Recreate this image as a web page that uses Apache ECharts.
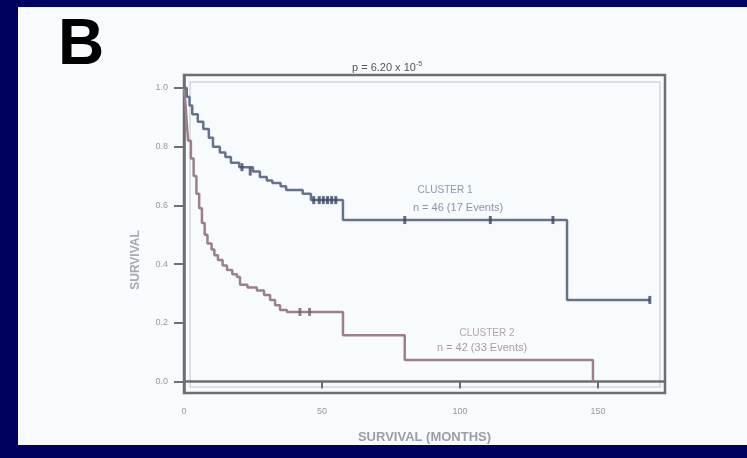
<!DOCTYPE html>
<html>
<head>
<meta charset="utf-8">
<script src="https://cdn.jsdelivr.net/npm/echarts@6/dist/echarts.min.js"></script>
<style>html,body{margin:0;padding:0;background:#00005e;}#c{width:747px;height:458px;}</style>
</head>
<body>
<div id="c"></div>
<script>
// Cluster 1 (upper, blue) Kaplan-Meier steps: months, survival
const blueTimes = [0, 1, 2, 3, 5, 7, 9, 10.5, 13, 15, 17, 20, 25, 27.5, 30, 32, 35, 37, 43, 46, 57.6, 138.8, 168.8];
const blueSurv  = [1.0, 0.97, 0.94, 0.91, 0.885, 0.86, 0.83, 0.80, 0.78, 0.765, 0.745, 0.73, 0.715, 0.697, 0.685, 0.676, 0.665, 0.652, 0.64, 0.618, 0.55, 0.278, 0.278];
const blueCensorT = [21, 24, 47, 49, 50.5, 52, 53.5, 55, 80, 111, 133.7, 168.8];
const blueCensorS = [0.73, 0.715, 0.618, 0.618, 0.618, 0.618, 0.618, 0.618, 0.55, 0.55, 0.55, 0.278];
// Cluster 2 (lower, red)
const redTimes = [0, 0.5, 1, 1.5, 2.5, 3.5, 4.5, 5.5, 6.5, 7.5, 8.5, 10, 11, 12.3, 14, 15.6, 17.5, 19.2, 20.3, 23, 26.4, 29, 31.2, 33, 34.8, 37.3, 57.6, 80, 148.2];
const redSurv  = [1.0, 0.95, 0.88, 0.82, 0.76, 0.70, 0.64, 0.59, 0.54, 0.50, 0.47, 0.45, 0.43, 0.414, 0.395, 0.38, 0.365, 0.356, 0.33, 0.32, 0.31, 0.295, 0.278, 0.26, 0.244, 0.237, 0.158, 0.073, 0.0];
const redCensorT = [42, 45.5];
const redCensorS = [0.237, 0.237];
// Axis ticks
const yTicks = [0, 0.2, 0.4, 0.6, 0.8, 1.0];
const xTicks = [0, 50, 100, 150];
const titleText = 'p = 6.20 x 10';
const titleSup = '-5';
const blueLabel = ['CLUSTER 1', 'n = 46 (17 Events)'];
const redLabel = ['CLUSTER 2', 'n = 42 (33 Events)'];

const zip = (a, b) => a.map((v, i) => [v, b[i]]);

const chart = echarts.init(document.getElementById('c'), null, {renderer: 'canvas'});
const axisCol = '#6b6f72';
chart.setOption({
  backgroundColor: '#00005e',
  animation: false,
  graphic: [
    {type: 'rect', z: -10, shape: {x: 18, y: 7, width: 729, height: 438}, style: {fill: '#f8fbfe'}},
    {type: 'text', left: 58, top: 14, style: {text: 'B', font: 'bold 64px "Liberation Sans", Arial, sans-serif', fill: '#000'}},
    {type: 'text', left: 352, top: 61, style: {rich: {a: {fontSize: 11, fontFamily: 'Liberation Sans', fill: '#555'}, s: {fontSize: 7, fontFamily: 'Liberation Sans', fill: '#555', verticalAlign: 'top', padding: [0,0,6,0]}}, text: '{a|' + titleText + '}{s|' + titleSup + '}'}},
    {type: 'text', x: 445, y: 190, style: {text: blueLabel[0], font: '10px "Liberation Sans"', fill: '#9298aa', align: 'center', verticalAlign: 'middle'}},
    {type: 'text', x: 458, y: 208, style: {text: blueLabel[1], font: '11px "Liberation Sans"', fill: '#8a92a8', align: 'center', verticalAlign: 'middle'}},
    {type: 'text', x: 487, y: 333, style: {text: redLabel[0], font: '10px "Liberation Sans"', fill: '#b5a3aa', align: 'center', verticalAlign: 'middle'}},
    {type: 'text', x: 482, y: 348, style: {text: redLabel[1], font: '11px "Liberation Sans"', fill: '#ae98a2', align: 'center', verticalAlign: 'middle'}},
    {type: 'text', x: 136, y: 260, rotation: Math.PI / 2, style: {text: 'SURVIVAL', font: 'bold 12px "Liberation Sans"', fill: '#a6aab0', align: 'center', verticalAlign: 'middle'}}
  ],
  grid: [
    {left: 184, right: 82, top: 75, bottom: 65, show: true, borderColor: axisCol, borderWidth: 2.5, backgroundColor: 'transparent'},
    {left: 190, right: 87, top: 82, bottom: 71, show: true, borderColor: '#d2d6da', borderWidth: 1.5, backgroundColor: 'transparent'}
  ],
  xAxis: [
    {type: 'value', gridIndex: 0, min: 0, max: 174.3, interval: 50,
     axisLine: {show: true, lineStyle: {color: axisCol, width: 2.5}},
     axisTick: {show: true, length: 7, lineStyle: {color: axisCol, width: 2}},
     axisLabel: {color: '#999', fontSize: 9, margin: 14, fontFamily: 'Liberation Sans', showMaxLabel: false, formatter: v => xTicks.includes(v) ? String(v) : ''},
     splitLine: {show: false},
     name: 'SURVIVAL (MONTHS)', nameLocation: 'middle', nameGap: 38,
     nameTextStyle: {color: '#9a9ea6', fontSize: 13, fontWeight: 'bold', fontFamily: 'Liberation Sans'}},
    {type: 'value', gridIndex: 1, show: false, min: 0, max: 1}
  ],
  yAxis: [
    {type: 'value', gridIndex: 0, min: -0.039, max: 1.044,
     axisLine: {show: true, lineStyle: {color: axisCol, width: 2.5}},
     axisTick: {show: true, length: 10, customValues: yTicks, lineStyle: {color: axisCol, width: 2}},
     axisLabel: {color: '#999', fontSize: 9, margin: 16, fontFamily: 'Liberation Sans', customValues: yTicks, formatter: v => v.toFixed(1)},
     splitLine: {show: false}},
    {type: 'value', gridIndex: 1, show: false, min: 0, max: 1}
  ],
  series: [
    {type: 'line', step: 'end', xAxisIndex: 0, yAxisIndex: 0, data: zip(redTimes, redSurv), symbol: 'none',
     lineStyle: {color: '#9c7f88', width: 2.5}, z: 3},
    {type: 'line', step: 'end', xAxisIndex: 0, yAxisIndex: 0, data: zip(blueTimes, blueSurv), symbol: 'none',
     lineStyle: {color: '#66728c', width: 2.5}, z: 4},
    {type: 'scatter', xAxisIndex: 0, yAxisIndex: 0, data: zip(blueCensorT, blueCensorS), symbol: 'rect', symbolSize: [3, 8],
     itemStyle: {color: '#3a4668'}, z: 5},
    {type: 'scatter', xAxisIndex: 0, yAxisIndex: 0, data: zip(redCensorT, redCensorS), symbol: 'rect', symbolSize: [3, 8],
     itemStyle: {color: '#7a6068'}, z: 5}
  ]
});
</script>
</body>
</html>
